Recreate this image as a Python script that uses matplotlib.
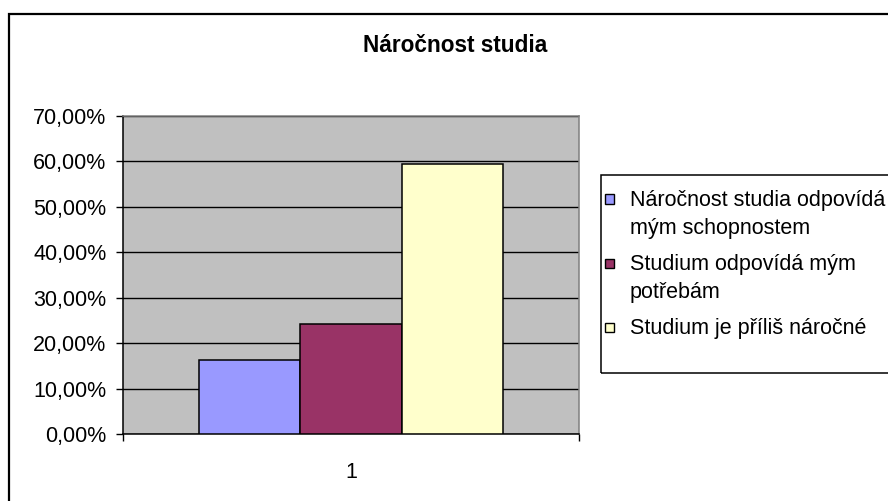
import matplotlib
matplotlib.use('Agg')
import matplotlib.pyplot as plt
from matplotlib.patches import Rectangle
from matplotlib.ticker import FuncFormatter

plt.rcParams['font.family'] = ['Liberation Sans', 'DejaVu Sans']

title = 'Náročnost studia'
series = ['Náročnost studia odpovídá\nmým schopnostem',
          'Studium odpovídá mým\npotřebám',
          'Studium je příliš náročné']
values = [16.2, 24.3, 59.5]
colors = ['#9999FF', '#993366', '#FFFFCC']
category = '1'
yticks = [0, 10, 20, 30, 40, 50, 60, 70]

W, H = 888, 501
fig = plt.figure(figsize=(W / 100, H / 100), dpi=100)


def px(x, y):
    # pixel (from top-left) -> figure coords
    return x / W, 1 - y / H


# outer chart frame (left and top edges visible)
fig.patches.append(Rectangle((8.5 / W, -0.1), 1.2, 1.1 - 13.5 / H, transform=fig.transFigure,
                             fill=False, edgecolor='black', linewidth=1.6))

ax = fig.add_axes([123 / W, 1 - 434 / H, (579 - 123) / W, (434 - 116) / H])
ax.set_facecolor('#C0C0C0')

bw = 0.222
offs = [-bw, 0, bw]
for v, c, o in zip(values, colors, offs):
    ax.bar(o, v, width=bw, color=c, edgecolor='black', linewidth=1.1, zorder=3)

ax.set_xlim(-0.5, 0.5)
ax.set_ylim(0, 70)
ax.set_yticks(yticks)
ax.yaxis.set_major_formatter(FuncFormatter(lambda v, p: f'{v:.2f}'.replace('.', ',') + '%'))
ax.yaxis.grid(True, color='black', linewidth=1.0, zorder=1)
ax.set_axisbelow(True)

ax.set_xticks([-0.5, 0.5])
ax.set_xticklabels(['', ''])
ax.set_xticks([0], [category], minor=True)
ax.tick_params(axis='x', which='minor', length=0, pad=20, labelsize=15.5)
ax.tick_params(axis='x', which='major', length=5, width=1.0, direction='out')
ax.tick_params(axis='y', length=5, width=1.0, direction='out', pad=7, labelsize=15.5)

for s in ['left', 'bottom']:
    ax.spines[s].set_color('black')
    ax.spines[s].set_linewidth(1.1)
for s in ['top', 'right']:
    ax.spines[s].set_color('#808080')
    ax.spines[s].set_linewidth(1.1)

fig.text(*px(455, 52), title, ha='center', va='baseline', fontsize=16.3, fontweight='bold')

# legend: frame, square markers aligned to the first line of each entry
fig.patches.append(Rectangle(px(600.5, 373), 0.5, (373 - 175) / H, transform=fig.transFigure,
                             fill=False, edgecolor='black', linewidth=1.1))
base = 206
line_step = 28
entry_gap = 8
msize = 9
for lab, c in zip(series, colors):
    fig.patches.append(Rectangle(px(605, base - 7 + msize / 2), msize / W, msize / H,
                                 transform=fig.transFigure, facecolor=c,
                                 edgecolor='black', linewidth=1.0))
    for ln in lab.split('\n'):
        fig.text(*px(630, base), ln, ha='left', va='baseline', fontsize=15.5)
        base += line_step
    base += entry_gap

fig.savefig('out.png', dpi=100)
